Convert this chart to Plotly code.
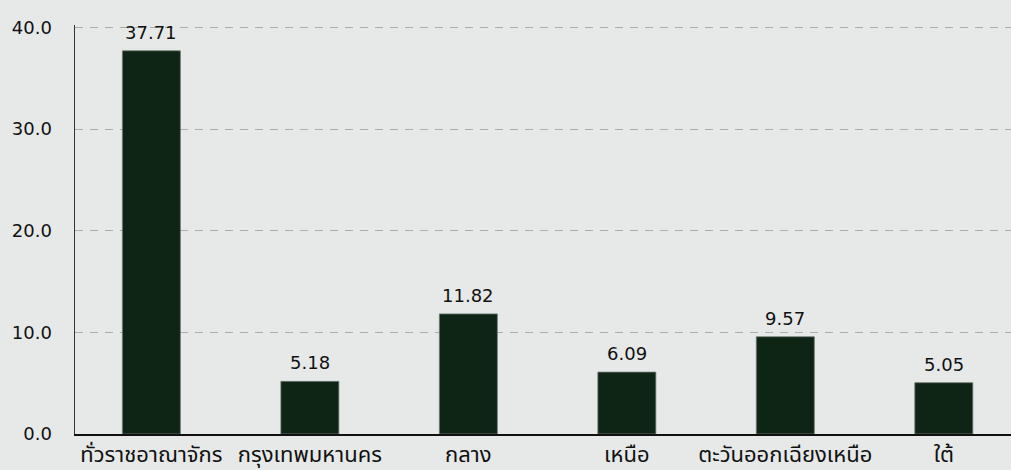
import plotly.graph_objects as go

categories = ["ทั่วราชอาณาจักร", "กรุงเทพมหานคร", "กลาง", "เหนือ", "ตะวันออกเฉียงเหนือ", "ใต้"]
values = [37.71, 5.18, 11.82, 6.09, 9.57, 5.05]
value_labels = ["37.71", "5.18", "11.82", "6.09", "9.57", "5.05"]
y_ticks = [0, 10, 20, 30, 40]
y_tick_labels = ["0.0", "10.0", "20.0", "30.0", "40.0"]

BG = "#e6e9e8"
BAR = "#0e2414"
FONT = "DejaVu Sans, Noto Sans, Noto Sans Thai, sans-serif"

xs = list(range(len(categories)))

fig = go.Figure()
fig.add_trace(go.Bar(
    x=xs,
    y=values,
    width=0.366,
    marker=dict(color=BAR, line=dict(color="#6f7a72", width=0.8)),
    hoverinfo="skip",
))

for xi, v, lab in zip(xs, values, value_labels):
    fig.add_annotation(
        x=xi, y=v, text=lab, showarrow=False,
        yanchor="bottom", yshift=6,
        font=dict(family=FONT, size=18, color="#111111"),
    )

fig.update_layout(
    width=1011, height=470,
    margin=dict(l=75, r=0, t=25, b=36),
    paper_bgcolor=BG, plot_bgcolor=BG,
    showlegend=False,
    bargap=0,
    font=dict(family=FONT, size=18, color="#111111"),
    xaxis=dict(
        range=[-0.482, 5.424],
        tickmode="array",
        tickvals=xs,
        ticktext=categories,
        showgrid=False, zeroline=False,
        showline=True, linecolor="#111111", linewidth=2,
        ticks="", tickfont=dict(size=22, color="#111111"),
        ticklabelstandoff=0,
        automargin=False,
        fixedrange=True,
    ),
    yaxis=dict(
        range=[0, 40.25],
        tickmode="array",
        tickvals=y_ticks,
        ticktext=y_tick_labels,
        showgrid=True, gridcolor="#a9adab", griddash="8px,7px", gridwidth=1.2,
        zeroline=False,
        showline=True, linecolor="#333333", linewidth=1.5,
        ticks="", ticklabelstandoff=18,
        tickfont=dict(size=18, color="#111111"),
        automargin=False,
        fixedrange=True,
    ),
)

fig.write_html(
    "out.html",
    config={"displayModeBar": False, "staticPlot": True},
    post_script="document.body.style.margin='0';document.body.style.overflow='hidden';",
)
